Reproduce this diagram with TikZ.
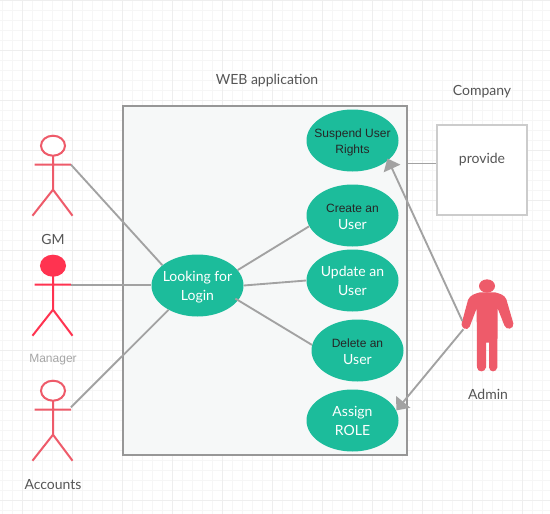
\documentclass[tikz,border=0pt]{standalone}
\usepackage{fontspec}
\setmainfont{Lato}
\newfontfamily\arialfont{Liberation Sans}
\usetikzlibrary{shapes.geometric,arrows.meta}
\definecolor{gridminor}{HTML}{F6F6F6}
\definecolor{gridmajor}{HTML}{EEEEEE}
\definecolor{framecol}{HTML}{979797}
\definecolor{panelcol}{HTML}{F6F8F8}
\definecolor{linkcol}{HTML}{A2A2A2}
\definecolor{teal}{HTML}{1CBC9B}
\definecolor{actorcol}{HTML}{EE5B6A}
\definecolor{actorhot}{HTML}{FF3350}
\definecolor{labelcol}{HTML}{555555}
\definecolor{boxcol}{HTML}{CCCCCC}
\newcommand{\blk}[1]{{\arialfont\fontsize{9}{12.75}\selectfont\color{black!85}#1}}
\tikzset{
  x=0.75pt,y=-0.75pt,
  usecase/.style={ellipse,fill=teal,draw=none,minimum width=69pt,minimum height=46.5pt,inner sep=0pt},
  casetext/.style={inner sep=0pt,align=center,text=white,font=\fontsize{10.5}{14.25}\selectfont},
  arialtext/.style={inner sep=0pt,align=center,text=black!85,font=\arialfont\fontsize{9}{12}\selectfont},
  label text/.style={text=labelcol,inner sep=0pt,font=\fontsize{10.5}{13}\selectfont},
  link/.style={draw=linkcol,line width=1.4pt},
  arrowlink/.style={link,-{Triangle[length=8.25pt,width=13.5pt,fill=linkcol]}},
  pics/actor/.style 2 args={code={
    \draw[#1,line width=1.5pt,fill=#2] (0,0) ellipse [x radius=12,y radius=10];
    \draw[#1,line width=1.5pt] (-18.5,19)--(18,19) (0,10)--(0,44) (-20.5,70)--(0,44)--(19.5,70);
    \coordinate (-hand) at (18,19);
  }}
}
\begin{document}
\begin{tikzpicture}
\useasboundingbox (0,0) rectangle (550,514);
\fill[white] (0,0) rectangle (550,514);
% grid
\foreach \i in {2,12,...,542} \draw[gridminor,line width=0.75pt] (\i,0)--(\i,514);
\foreach \i in {0.5,10.5,...,510.5} \draw[gridminor,line width=0.75pt] (0,\i)--(550,\i);
\foreach \i in {22,72,...,522} \draw[gridmajor,line width=0.75pt] (\i,0)--(\i,514);
\foreach \i in {0.5,50.5,...,500.5} \draw[gridmajor,line width=0.75pt] (0,\i)--(550,\i);
% frame
\node[draw=framecol,fill=panelcol,line width=1.5pt,minimum width=213pt,minimum height=261.75pt,inner sep=0pt] (app) at (265,280.5) {};
\node[draw=boxcol,fill=white,line width=1.5pt,minimum width=67.5pt,minimum height=67.5pt,inner sep=0pt] (box) at (482,170) {};
% use cases
\node[usecase,label={[casetext,yshift=-1.5pt]center:Looking for\\Login}] (looking) at (197.5,285.5) {};
\node[usecase,label={[arialtext,yshift=-1.5pt]center:Suspend User\\Rights}] (suspend) at (352.5,140.5) {};
\node[usecase,label={[casetext,yshift=-0.75pt]center:\blk{Create an}\\[-1.5pt]User}] (create) at (352.5,215.5) {};
\node[usecase,label={[casetext]center:Update an\\User}] (update) at (352.5,280.5) {};
\node[usecase,label={[casetext,yshift=-0.75pt]center:\blk{Delete an}\\[-1.5pt]User}] (delete) at (357.5,350.5) {};
\node[usecase,label={[casetext]center:Assign\\ROLE}] (assign) at (352.5,420.5) {};
% texts
\node[label text] (web) at (267,81) {WEB application};
\node[label text] (company) at (482,92) {Company};
\node[label text] (provide) at (482,160) {provide};
\node[label text] (gmtext) at (53,239) {GM};
\node[label text,font=\arialfont\fontsize{9}{12}\selectfont,text=black!35] (mgrtext) at (53,360) {Manager};
\node[label text] (acctext) at (53,485) {Accounts};
\node[label text] (admintext) at (488,394) {Admin};
% actors
\pic (gm) at (53,145.7) {actor={actorcol}{white}};
\pic (mgr) at (53,265.7) {actor={actorhot}{actorhot}};
\pic (acc) at (53,390.7) {actor={actorcol}{white}};
% admin
\begin{scope}[shift={(380,260)},x=0.25pt,y=-0.25pt]
\fill[actorcol] (321,78) ellipse [x radius=24,y radius=20];
\fill[actorcol] (300,97) -- (345,97) .. controls (360,101) and (374,105) .. (379,118)
  -- (400,190) .. controls (403,208) and (378,212) .. (373,196)
  -- (353,145) -- (352,322) .. controls (350,338) and (328,338) .. (327,322)
  -- (327,248) -- (318,248) -- (318,322) .. controls (316,338) and (292,338) .. (291,322)
  -- (290,145) -- (269,200) .. controls (262,214) and (240,206) .. (246,186)
  -- (264,120) .. controls (270,105) and (285,101) .. (300,97) -- cycle;
\coordinate (adminup) at (247,183);
\coordinate (adminlow) at (250,208);
\end{scope}
% connectors
\draw[link] (gm-hand) -- (looking.150.6);
\draw[link] (mgr-hand) -- (looking.west |- mgr-hand);
\draw[link] (acc-hand) ++(0,-2.4) -- (looking.220);
\draw[link] (looking.21.6) -- (create.194);
\draw[link] (looking.0) -- (update.180);
\draw[link,shorten <=-2.5pt] (looking.-20) -- (delete.173);
\draw[link] (app.east |- box.west) ++(0,-6.5) coordinate (pstart) -- (box.west |- pstart);
\draw[arrowlink,shorten >=-1.5pt] (adminup) -- (suspend.-29.5);
\draw[arrowlink] (adminlow) -- (assign.13);
\end{tikzpicture}
\end{document}
